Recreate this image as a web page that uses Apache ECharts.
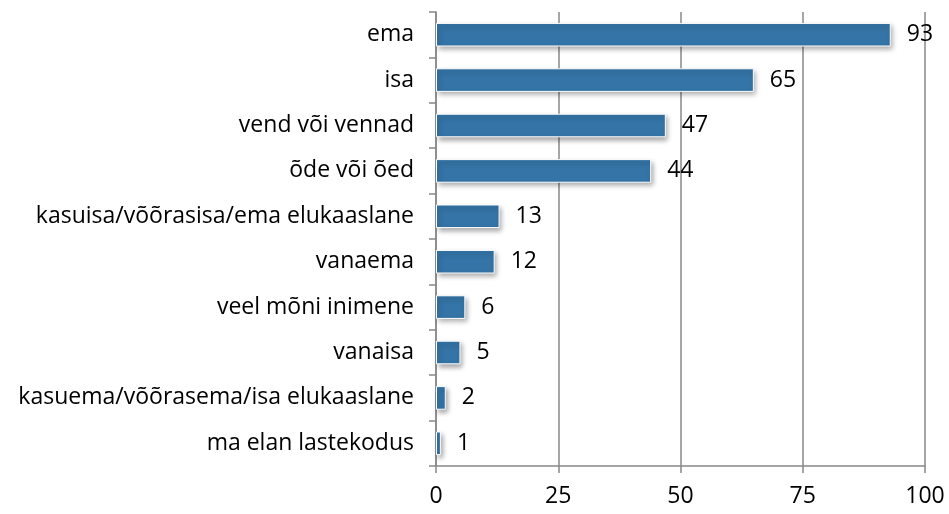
<!DOCTYPE html>
<html>
<head>
<meta charset="utf-8">
<script src="https://cdn.jsdelivr.net/npm/echarts@6/dist/echarts.min.js"></script>
<style>
  html, body { margin: 0; padding: 0; background: #fff; }
  #chart { width: 949px; height: 514px; }
</style>
</head>
<body>
<div id="chart"></div>
<script>
// kategooriad ülevalt alla
const categories = [
    'ema',
    'isa',
    'vend või vennad',
    'õde või õed',
    'kasuisa/võõrasisa/ema elukaaslane',
    'vanaema',
    'veel mõni inimene',
    'vanaisa',
    'kasuema/võõrasema/isa elukaaslane',
    'ma elan lastekodus'
];
const values = [93, 65, 47, 44, 13, 12, 6, 5, 2, 1];
const xTicks = [0, 25, 50, 75, 100];

const chart = echarts.init(document.getElementById('chart'));

const font = '"Open Sans", "Noto Sans", sans-serif';

const option = {
    animation: false,
    grid: { left: 436, right: 24, top: 12, bottom: 48, containLabel: false },
    xAxis: {
        type: 'value',
        min: xTicks[0],
        max: xTicks[xTicks.length - 1],
        interval: 25,
        axisLine: { show: true, lineStyle: { color: '#888', width: 1.5 } },
        axisTick: { show: true, length: 7, lineStyle: { color: '#888', width: 1.5 } },
        splitLine: { show: true, lineStyle: { color: '#888', width: 1.5 } },
        axisLabel: { color: '#000', fontSize: 23, fontFamily: font, margin: 19 }
    },
    yAxis: {
        type: 'category',
        inverse: true,
        data: categories,
        axisLine: { show: true, lineStyle: { color: '#888', width: 1.5 } },
        axisTick: { show: true, length: 7, lineStyle: { color: '#888', width: 1.5 } },
        axisLabel: { color: '#000', fontSize: 23, fontFamily: font, margin: 22 }
    },
    series: [{
        type: 'bar',
        data: values,
        barWidth: '52%',
        itemStyle: {
            color: '#3474a6',
            borderColor: '#ffffff',
            borderWidth: 1,
            shadowColor: 'rgba(0,0,0,0.35)',
            shadowBlur: 5,
            shadowOffsetX: 2,
            shadowOffsetY: 3
        },
        label: {
            show: true,
            position: 'right',
            distance: 16,
            color: '#000',
            fontSize: 23,
            fontFamily: font
        }
    }]
};

chart.setOption(option);
</script>
</body>
</html>
